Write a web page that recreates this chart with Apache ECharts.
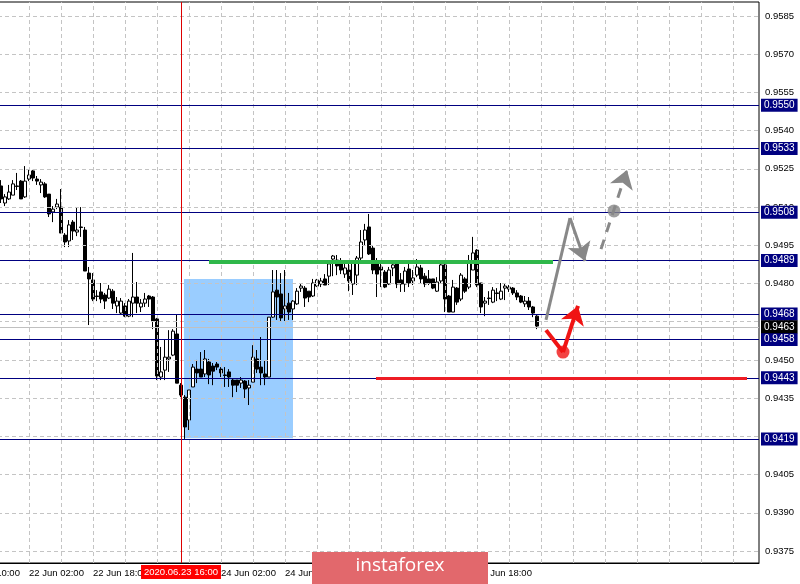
<!DOCTYPE html>
<html>
<head>
<meta charset="utf-8">
<script src="https://cdn.jsdelivr.net/npm/echarts@6/dist/echarts.min.js"></script>
<style>html,body{margin:0;padding:0;background:#fff}#c{width:800px;height:584px}</style>
</head>
<body>
<div id="c"></div>
<script>
// ---- data ----
const LEAD = 9;          // empty hours before first candle
const TOTAL = 199;       // hour slots on the time axis
const xLabels = ['21 Jun 10:00','22 Jun 02:00','22 Jun 18:00','23 Jun 10:00','24 Jun 02:00','24 Jun 18:00','25 Jun 10:00','26 Jun 02:00','26 Jun 18:00'];
const yTicks = [0.9375,0.9390,0.9405,0.9420,0.9435,0.9450,0.9465,0.9480,0.9495,0.9510,0.9525,0.9540,0.9555,0.9570,0.9585];
const levels = [0.9550,0.9533,0.9508,0.9489,0.9468,0.9458,0.9443,0.9419];
const bidPrice = 0.9463;
const cursorHour = 54;
const cursorLabel = '2020.06.23 16:00';

const opens = [0.95183,0.95116,0.95132,0.95147,0.95183,0.95202,0.95140,0.95210,0.95242,0.95210,0.95187,0.95191,0.95151,0.95081,0.95100,0.95100,0.94990,0.94967,0.95041,0.95002,0.95022,0.95010,0.94841,0.94814,0.94751,0.94767,0.94755,0.94743,0.94770,0.94712,0.94684,0.94712,0.94672,0.94723,0.94747,0.94708,0.94723,0.94751,0.94747,0.94661,0.94433,0.94460,0.94504,0.94519,0.94602,0.94401,0.94354,0.94264,0.94394,0.94464,0.94464,0.94445,0.94492,0.94476,0.94484,0.94464,0.94441,0.94453,0.94421,0.94421,0.94409,0.94417,0.94390,0.94413,0.94504,0.94472,0.94445,0.94433,0.94668,0.94774,0.94759,0.94700,0.94723,0.94700,0.94720,0.94782,0.94782,0.94770,0.94751,0.94790,0.94798,0.94818,0.94829,0.94896,0.94892,0.94880,0.94837,0.94853,0.94798,0.94833,0.94900,0.94971,0.95022,0.94939,0.94877,0.94865,0.94845,0.94798,0.94861,0.94884,0.94814,0.94798,0.94857,0.94810,0.94833,0.94861,0.94829,0.94818,0.94818,0.94770,0.94810,0.94873,0.94751,0.94688,0.94782,0.94739,0.94818,0.94786,0.94853,0.94931,0.94802,0.94723,0.94743,0.94727,0.94763,0.94739,0.94782,0.94778,0.94782,0.94763,0.94751,0.94720,0.94731,0.94708,0.94672];
const closes = [0.95132,0.95140,0.95159,0.95191,0.95181,0.95132,0.95202,0.95226,0.95214,0.95202,0.95198,0.95140,0.95073,0.95092,0.95112,0.94998,0.94963,0.95030,0.95006,0.95010,0.95020,0.94849,0.94818,0.94739,0.94749,0.94739,0.94731,0.94778,0.94723,0.94731,0.94731,0.94672,0.94731,0.94747,0.94723,0.94723,0.94739,0.94739,0.94653,0.94437,0.94453,0.94511,0.94511,0.94613,0.94409,0.94362,0.94237,0.94382,0.94472,0.94449,0.94433,0.94504,0.94441,0.94456,0.94472,0.94449,0.94439,0.94433,0.94401,0.94401,0.94421,0.94386,0.94401,0.94511,0.94464,0.94449,0.94433,0.94668,0.94767,0.94747,0.94665,0.94712,0.94688,0.94731,0.94770,0.94790,0.94743,0.94747,0.94802,0.94814,0.94810,0.94794,0.94877,0.94908,0.94869,0.94853,0.94861,0.94810,0.94880,0.94900,0.94963,0.95010,0.94916,0.94853,0.94837,0.94853,0.94786,0.94853,0.94873,0.94798,0.94798,0.94849,0.94802,0.94822,0.94865,0.94818,0.94798,0.94802,0.94782,0.94806,0.94873,0.94739,0.94688,0.94786,0.94727,0.94833,0.94770,0.94880,0.94920,0.94794,0.94708,0.94731,0.94741,0.94774,0.94761,0.94770,0.94790,0.94786,0.94763,0.94747,0.94727,0.94731,0.94708,0.94684,0.94633];
const lows = [0.95116,0.95104,0.95128,0.95147,0.95167,0.95132,0.95136,0.95202,0.95202,0.95187,0.95155,0.95136,0.95061,0.95041,0.95092,0.94998,0.94943,0.94943,0.94971,0.94986,0.94983,0.94849,0.94637,0.94731,0.94731,0.94723,0.94700,0.94739,0.94700,0.94684,0.94680,0.94668,0.94668,0.94668,0.94684,0.94688,0.94708,0.94708,0.94621,0.94421,0.94421,0.94421,0.94453,0.94515,0.94409,0.94354,0.94190,0.94225,0.94394,0.94409,0.94433,0.94433,0.94405,0.94401,0.94460,0.94433,0.94394,0.94394,0.94354,0.94374,0.94390,0.94347,0.94323,0.94413,0.94449,0.94401,0.94401,0.94433,0.94665,0.94657,0.94653,0.94653,0.94657,0.94657,0.94716,0.94767,0.94708,0.94727,0.94747,0.94786,0.94786,0.94794,0.94794,0.94829,0.94833,0.94837,0.94822,0.94770,0.94755,0.94794,0.94884,0.94951,0.94912,0.94837,0.94747,0.94786,0.94782,0.94794,0.94829,0.94782,0.94767,0.94767,0.94786,0.94794,0.94825,0.94802,0.94786,0.94794,0.94778,0.94767,0.94802,0.94688,0.94688,0.94688,0.94716,0.94731,0.94763,0.94778,0.94853,0.94786,0.94684,0.94672,0.94716,0.94723,0.94731,0.94735,0.94735,0.94767,0.94755,0.94735,0.94723,0.94708,0.94696,0.94668,0.94621];
const highs = [0.95206,0.95151,0.95187,0.95206,0.95234,0.95206,0.95261,0.95246,0.95246,0.95222,0.95210,0.95198,0.95151,0.95104,0.95132,0.95171,0.94998,0.95049,0.95049,0.95100,0.95100,0.95022,0.94865,0.94841,0.94774,0.94802,0.94763,0.94794,0.94778,0.94747,0.94743,0.94723,0.94739,0.94920,0.94806,0.94739,0.94763,0.94755,0.94751,0.94665,0.94551,0.94582,0.94617,0.94621,0.94680,0.94409,0.94362,0.94382,0.94484,0.94500,0.94531,0.94539,0.94504,0.94488,0.94492,0.94472,0.94472,0.94464,0.94429,0.94421,0.94433,0.94421,0.94421,0.94558,0.94539,0.94590,0.94496,0.94668,0.94853,0.94853,0.94841,0.94853,0.94763,0.94735,0.94782,0.94798,0.94790,0.94770,0.94818,0.94818,0.94822,0.94837,0.94884,0.94912,0.94912,0.94900,0.94884,0.94884,0.94892,0.94908,0.95010,0.95034,0.95073,0.94951,0.94900,0.94877,0.94853,0.94865,0.94884,0.94892,0.94841,0.94865,0.94880,0.94853,0.94896,0.94873,0.94841,0.94853,0.94818,0.94825,0.94888,0.94888,0.94755,0.94814,0.94786,0.94841,0.94825,0.94912,0.94983,0.94935,0.94802,0.94747,0.94770,0.94786,0.94782,0.94802,0.94802,0.94794,0.94786,0.94774,0.94755,0.94751,0.94747,0.94712,0.94676];

// drawn annotations, in [hour slot, price]
const greenLine = [[61, 0.94886],[147, 0.94886]];
const redLine = [[102.75, 0.9443],[195.5, 0.9443]];
const blueBox = [[54.75, 0.94818],[82, 0.94193]];
const grayPath = [[145.25, 0.94657],[151.25, 0.95057],[155, 0.94888]];
const grayDash = [[159, 0.94935],[165.5, 0.95246]];
const grayDot = [162.25, 0.95085];
const redPath = [[145.25, 0.94617],[149.5, 0.94531],[153.25, 0.94712]];
const redDot = [149.5, 0.94531];

// ---- build ----
const FONT = '"Liberation Sans", Arial, sans-serif';
const categories = Array.from({length: TOTAL}, (_, k) => String(k));
const candles = opens.map((o, i) => [i + LEAD, o, closes[i], lows[i], highs[i]]);

const gridLines = [];
for (let j = 0; j < TOTAL; j += 8) gridLines.push({xAxis: j});
yTicks.forEach(v => gridLines.push({yAxis: v}));

const levelLines = levels.map(v => ({yAxis: v}));
levelLines.push({yAxis: bidPrice, lineStyle: {color: '#c0c0c0'}, label: {backgroundColor: '#000'}});

const seg = (a, b, style, endSym) => [
  {coord: a, symbol: 'none'},
  {coord: b, symbol: endSym ? 'arrow' : 'none', symbolSize: endSym ? 18 : 0, lineStyle: style}
];

const chart = echarts.init(document.getElementById('c'), null, {renderer: 'canvas'});
chart.setOption({
  animation: false,
  backgroundColor: '#fff',
  grid: {left: -37, right: 41, top: 2, bottom: 21, containLabel: false, outerBoundsMode: 'none',
         show: true, borderColor: '#000', borderWidth: 1, backgroundColor: 'transparent'},
  xAxis: [
    {type: 'category', data: categories, boundaryGap: true,
     axisLine: {lineStyle: {color: '#000', width: 1}}, axisTick: {show: false}, splitLine: {show: false},
     axisLabel: {interval: (idx) => idx % 16 === 0 && idx / 16 < xLabels.length,
                 formatter: (v, idx) => xLabels[idx / 16] || '',
                 align: 'left', margin: 5, color: '#000', fontSize: 9.5, fontFamily: FONT}},
    {type: 'value', min: -0.5, max: TOTAL - 0.5, show: false}
  ],
  yAxis: {type: 'value', position: 'right', min: 0.93703, max: 0.95905, scale: true,
    axisLine: {show: true, lineStyle: {color: '#000'}}, axisTick: {show: false}, splitLine: {show: false},
    axisLabel: {customValues: yTicks, formatter: v => v.toFixed(4), color: '#000', margin: 6, fontSize: 9.5, fontFamily: FONT}},
  series: [
    {type: 'line', xAxisIndex: 1, data: [], z: 1, silent: true,
     markLine: {silent: true, symbol: 'none', animation: false, precision: 6, label: {show: false},
       lineStyle: {color: '#c4c4c4', type: [4, 3], width: 1}, data: gridLines}},
    {type: 'line', xAxisIndex: 1, data: [], z: 2, silent: true,
     markArea: {silent: true, itemStyle: {color: 'rgba(30,144,255,0.45)'},
       data: [[{coord: blueBox[0]}, {coord: blueBox[1]}]]}},
    {type: 'line', xAxisIndex: 1, data: [], z: 2, silent: true,
     markLine: {silent: true, symbol: 'none', animation: false, precision: 6,
       lineStyle: {color: '#000080', type: 'solid', width: 1},
       label: {show: true, position: 'end', formatter: p => Number(p.value).toFixed(4), distance: 2,
         backgroundColor: '#000080', color: '#fff', padding: [2, 3, 1, 3], fontSize: 10, fontFamily: FONT},
       data: levelLines}},
    {type: 'candlestick', xAxisIndex: 0, z: 3, data: candles, barWidth: 3,
     encode: {x: 0, y: [1, 2, 3, 4]},
     itemStyle: {color: '#fff', color0: '#000', borderColor: '#000', borderColor0: '#000', borderWidth: 1}},
    {type: 'line', xAxisIndex: 1, data: [], z: 4, silent: true,
     markLine: {silent: true, symbol: 'none', animation: false, precision: 6, label: {show: false},
       data: [
         [{coord: greenLine[0]}, {coord: greenLine[1], lineStyle: {color: '#2fb84a', width: 4, type: 'solid'}}],
         [{coord: redLine[0]}, {coord: redLine[1], lineStyle: {color: '#ee1c24', width: 3, type: 'solid'}}],
         {xAxis: cursorHour, lineStyle: {color: '#dd0000', width: 1, type: 'solid'},
          label: {show: true, position: 'start', formatter: cursorLabel, distance: 2,
            backgroundColor: '#ff0000', color: '#fff', padding: [2, 3, 2, 3], fontSize: 9.5, fontFamily: FONT}},
         seg(grayPath[0], grayPath[1], {color: '#888', width: 3, type: 'solid'}, false),
         seg(grayPath[1], grayPath[2], {color: '#888', width: 3, type: 'solid'}, true),
         seg(grayDash[0], grayDash[1], {color: '#888', width: 3, type: [10, 8]}, true),
         seg(redPath[0], redPath[1], {color: '#f01414', width: 4, type: 'solid'}, false),
         seg(redPath[1], redPath[2], {color: '#f01414', width: 4, type: 'solid'}, true)
       ]}},
    {type: 'scatter', xAxisIndex: 1, z: 5, silent: true, symbolSize: 13,
     data: [{value: grayDot, itemStyle: {color: '#888'}}, {value: redDot, itemStyle: {color: '#f01414'}}]}
  ],
  graphic: [
    {type: 'rect', left: 312, top: 552, z: 100, zlevel: 1, shape: {width: 176, height: 32}, style: {fill: '#e2686c'}},
    {type: 'text', left: 'center', top: 556, z: 101, zlevel: 1, style: {text: 'instaforex', fill: '#fff', font: '19px "Open Sans"'}}
  ]
});
</script>
</body>
</html>
